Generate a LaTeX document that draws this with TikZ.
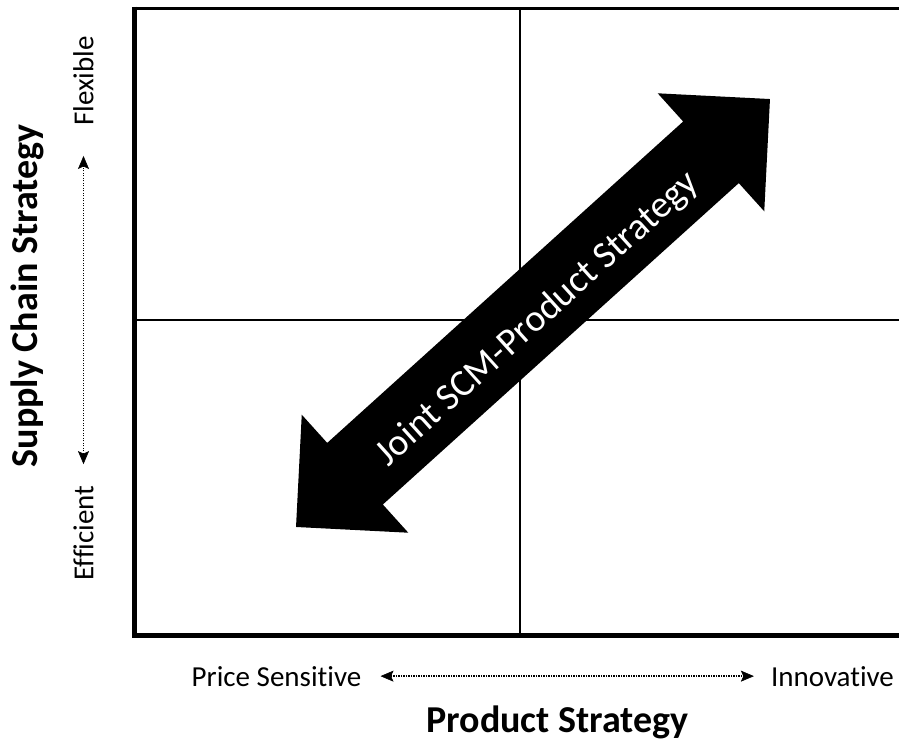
\documentclass[tikz,border=0pt]{standalone}
\usepackage{fontspec}
\setmainfont{Carlito}[Ligatures=NoCommon]
\usetikzlibrary{arrows.meta}

\tikzset{
  axislabel/.style={font=\fontsize{38}{40}\selectfont\bfseries, inner sep=2pt},
  endlabel/.style={font=\fontsize{29}{31}\selectfont, inner sep=2pt},
  biglabel/.style={font=\fontsize{38}{40}\selectfont, text=white, inner sep=2pt},
  dottip/.tip={Stealth[length=13pt,width=11pt,inset=2.5pt,line width=0.6pt,fill=black]},
  dotarrow/.style={dash pattern=on 1.2pt off 1.3pt, line width=1.8pt, dottip-dottip},
}

\begin{document}
\begin{tikzpicture}[x=1pt,y=-1pt]
\useasboundingbox (0,0) rectangle (899,740);

\draw[line width=3pt] (132,8) -- (899,8);
\draw[line width=5pt] (134,6.5) -- (134,635.5) -- (899,635.5);
\draw[line width=1.5pt] (520,8) -- (520,635.5);
\draw[line width=1.5pt] (134,320) -- (899,320);

\begin{scope}[shift={(533,313)}, rotate=42.08]
\fill (319.3,0) -- (239.8,79.5) -- (239.8,41.5) -- (-239.8,41.5) -- (-239.8,79.5)
  -- (-319.3,0) -- (-239.8,-79.5) -- (-239.8,-41.5) -- (239.8,-41.5) -- (239.8,-79.5) -- cycle;
\end{scope}
\node (JNT) [biglabel, rotate=42.08] at (538,319) {Joint SCM-Product Strategy};

\node (SCS) [axislabel, rotate=90] at (27,296) {Supply Chain Strategy};
\node (EFF) [endlabel, rotate=90] at (83.5,533) {Efficient};
\node (FLX) [endlabel, rotate=90] at (83.5,81) {Flexible};
\node (PRS) [endlabel, anchor=base] at (276.5,686) {Price Sensitive};
\node (INV) [endlabel, anchor=base] at (832.5,686) {Innovative};
\node (PST) [axislabel, anchor=base] at (557.5,732) {Product Strategy};

\draw[dotarrow, shorten <=17pt, shorten >=15pt] (PRS) -- (INV);
\draw[dotarrow, shorten <=19pt, shorten >=28pt] (EFF) -- (FLX);

\end{tikzpicture}
\end{document}
